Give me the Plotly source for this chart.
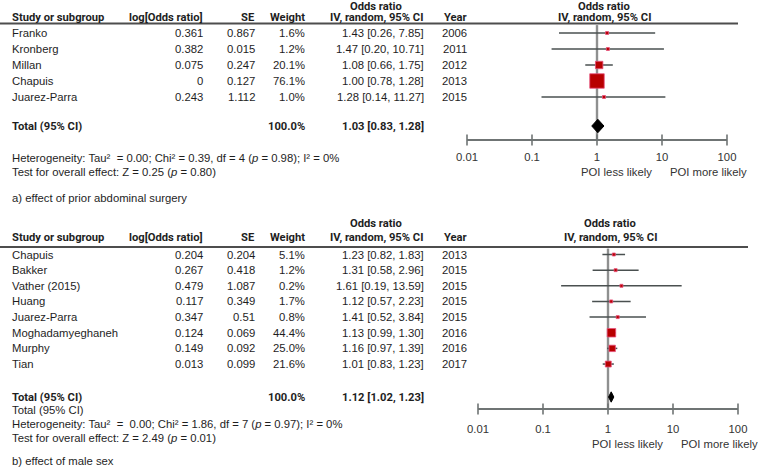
import plotly.graph_objects as go

# ---------------- data ----------------
a_study = ["Franko", "Kronberg", "Millan", "Chapuis", "Juarez-Parra"]
a_logor = [0.361, 0.382, 0.075, 0, 0.243]
a_se = [0.867, 0.015, 0.247, 0.127, 1.112]
a_weight = [1.6, 1.2, 20.1, 76.1, 1.0]
a_or = [1.43, 1.47, 1.08, 1.00, 1.28]
a_lo = [0.26, 0.20, 0.66, 0.78, 0.14]
a_hi = [7.85, 10.71, 1.75, 1.28, 11.27]
a_year = [2006, 2011, 2012, 2013, 2015]
a_total = [1.03, 0.83, 1.28]   # estimate, lower, upper
a_het = "Heterogeneity: Tau²  = 0.00; Chi² = 0.39, df = 4 (<i>p</i> = 0.98); I² = 0%"
a_test = "Test for overall effect: Z = 0.25 (<i>p</i> = 0.80)"
a_caption = "a) effect of prior abdominal surgery"

b_study = ["Chapuis", "Bakker", "Vather (2015)", "Huang", "Juarez-Parra",
           "Moghadamyeghaneh", "Murphy", "Tian"]
b_logor = [0.204, 0.267, 0.479, 0.117, 0.347, 0.124, 0.149, 0.013]
b_se = [0.204, 0.418, 1.087, 0.349, 0.51, 0.069, 0.092, 0.099]
b_weight = [5.1, 1.2, 0.2, 1.7, 0.8, 44.4, 25.0, 21.6]
b_or = [1.23, 1.31, 1.61, 1.12, 1.41, 1.13, 1.16, 1.01]
b_lo = [0.82, 0.58, 0.19, 0.57, 0.52, 0.99, 0.97, 0.83]
b_hi = [1.83, 2.96, 13.59, 2.23, 3.84, 1.30, 1.39, 1.23]
b_year = [2013, 2015, 2015, 2015, 2015, 2016, 2016, 2017]
b_total = [1.12, 1.02, 1.23]
b_het = "Heterogeneity: Tau²  =  0.00; Chi² = 1.86, df = 7 (<i>p</i> = 0.97); I² = 0%"
b_test = "Test for overall effect: Z = 2.49 (<i>p</i> = 0.01)"
b_caption = "b) effect of male sex"

tick_vals = [0.01, 0.1, 1, 10, 100]
tick_text = ["0.01", "0.1", "1", "10", "100"]
headers = ["Study or subgroup", "log[Odds ratio]", "SE", "Weight",
           "Odds ratio", "IV, random, 95% CI", "Year"]
left_label = "POI less likely"
right_label = "POI more likely"

# ---------------- styling ----------------
W, H = 758, 474
REG = "Liberation Sans, Arial, sans-serif"
BLD = "Roboto, Liberation Sans, Arial, sans-serif"
FS = 11.3
BS = 11.2
TXT = "#1e1e1e"

fig = go.Figure()
annotations = []
shapes = []

panels = [
    dict(study=a_study, logor=a_logor, se=a_se, w=a_weight, orr=a_or, lo=a_lo,
         hi=a_hi, year=a_year, total=a_total, het=a_het, test=a_test,
         cap=a_caption, extra_total=False,
         xa="x", ya="y", base=33.0, step=16.0, top=0, bot=212,
         one_px=597, hdr1=6.4, hdr2=17.6, line=23.5, tot=126, axis=140,
         tl=158, poi=172, hetp=158, testp=172, capp=198, linex=738,
         fhdr=604, k=1.66, dh=0.42),
    dict(study=b_study, logor=b_logor, se=b_se, w=b_weight, orr=b_or, lo=b_lo,
         hi=b_hi, year=b_year, total=b_total, het=b_het, test=b_test,
         cap=b_caption, extra_total=True,
         xa="x2", ya="y2", base=254.5, step=15.65, top=214, bot=474,
         one_px=608, hdr1=223.0, hdr2=237.4, line=247, tot=397, axis=409,
         tl=430, poi=444, totp=410, hetp=424, testp=438, capp=461, linex=748,
         fhdr=610, k=1.28, dh=0.33),
]

layout_axes = {}
for n, p in enumerate(panels):
    suffix = "" if n == 0 else "2"
    conv = (lambda pp: (lambda px: (px - pp["base"]) / pp["step"]))(p)
    yref = p["ya"]
    xref = p["xa"]
    # forest axis: 65 px per decade, ticks from 0.01 to 100
    x0px = p["one_px"] - 130
    x1px = p["one_px"] + 130
    layout_axes["xaxis" + suffix] = dict(
        type="log", range=[-2, 2], domain=[x0px / W, x1px / W], visible=False,
        anchor=yref, fixedrange=True)
    layout_axes["yaxis" + suffix] = dict(
        range=[conv(p["bot"]), conv(p["top"])], domain=[1 - p["bot"] / H, 1 - p["top"] / H],
        visible=False, anchor=xref, fixedrange=True)

    def ann(x, y, text, anchor="left", font=REG, size=FS, bold=False, color=TXT):
        annotations.append(dict(
            x=x / W, xref="paper", y=y, yref=yref, text=text, showarrow=False,
            xanchor=anchor, yanchor="middle", borderpad=0,
            font=dict(family=font, size=size, color=color, weight=700 if bold else 400)))

    # headers
    ann(11, conv(p["hdr2"]), headers[0], "left", BLD, BS, True)
    ann(204, conv(p["hdr2"]), headers[1], "right", BLD, BS, True)
    ann(256, conv(p["hdr2"]), headers[2], "right", BLD, BS, True)
    ann(306, conv(p["hdr2"]), headers[3], "right", BLD, BS, True)
    ann(376, conv(p["hdr1"]), headers[4], "center", BLD, BS, True)
    ann(376, conv(p["hdr2"]), headers[5], "center", BLD, BS, True)
    ann(468, conv(p["hdr2"]), headers[6], "right", BLD, BS, True)
    ann(p["fhdr"], conv(p["hdr1"]), headers[4], "center", BLD, BS, True)
    ann(p["fhdr"], conv(p["hdr2"]), headers[5], "center", BLD, BS, True)

    shapes.append(dict(type="line", xref="paper", yref=yref, x0=0, x1=p["linex"] / W,
                       y0=conv(p["line"]), y1=conv(p["line"]),
                       line=dict(color="#4d4d4d", width=1.8)))

    # rows
    for i, s in enumerate(p["study"]):
        ann(11, i, s)
        ann(204, i, f"{p['logor'][i]:g}", "right")
        ann(256, i, f"{p['se'][i]:g}", "right")
        ann(306, i, f"{p['w'][i]:.1f}%", "right")
        ann(425, i, f"{p['orr'][i]:.2f} [{p['lo'][i]:.2f}, {p['hi'][i]:.2f}]", "right")
        ann(468, i, str(p["year"][i]), "right")

    # total row
    ty = conv(p["tot"])
    ann(11, ty, "Total (95% CI)", "left", BLD, BS, True)
    ann(306, ty, f"{sum(p['w']):.1f}%", "right", BLD, BS, True)
    est, tlo, thi = p["total"]
    ann(425, ty, f"{est:.2f} [{tlo:.2f}, {thi:.2f}]", "right", BLD, BS, True)

    # footers
    if p["extra_total"]:
        ann(11, conv(p["totp"]), "Total (95% CI)")
    ann(11, conv(p["hetp"]), p["het"])
    ann(11, conv(p["testp"]), p["test"])
    ann(11, conv(p["capp"]), p["cap"])

    # forest plot: vertical line of no effect
    ay = conv(p["axis"])
    fig.add_trace(go.Scatter(x=[1, 1], y=[conv(p["line"]) + 0.1, ay], mode="lines",
                             line=dict(color="#8f9090", width=2.4), xaxis=xref, yaxis=yref,
                             hoverinfo="skip", showlegend=False))
    # CI lines
    cx, cy = [], []
    for i in range(len(p["study"])):
        cx += [p["lo"][i], p["hi"][i], None]
        cy += [i, i, None]
    fig.add_trace(go.Scatter(x=cx, y=cy, mode="lines", line=dict(color="#4a5050", width=1.5),
                             xaxis=xref, yaxis=yref, hoverinfo="skip", showlegend=False,
                             cliponaxis=False))
    # weighted squares
    sizes = [max(3.0, p["k"] * (w ** 0.5)) for w in p["w"]]
    fig.add_trace(go.Scatter(x=p["orr"], y=list(range(len(p["study"]))), mode="markers",
                             opacity=1,
                             marker=dict(symbol="square", size=sizes, color="#b80000",
                                         opacity=1,
                                         line=dict(color="#e8507c", width=0.8)),
                             xaxis=xref, yaxis=yref, hoverinfo="skip", showlegend=False,
                             cliponaxis=False))
    # diamond for pooled estimate
    dh = p["dh"]
    fig.add_trace(go.Scatter(x=[tlo, est, thi, est, tlo], y=[ty, ty - dh, ty, ty + dh, ty],
                             mode="lines", fill="toself", fillcolor="#000000",
                             line=dict(color="#000000", width=1), xaxis=xref, yaxis=yref,
                             hoverinfo="skip", showlegend=False, cliponaxis=False))
    # axis line + ticks
    fig.add_trace(go.Scatter(x=[tick_vals[0], tick_vals[-1]], y=[ay, ay], mode="lines",
                             line=dict(color="#6f7474", width=2), xaxis=xref, yaxis=yref,
                             hoverinfo="skip", showlegend=False, cliponaxis=False))
    fig.add_trace(go.Scatter(x=tick_vals, y=[ay] * len(tick_vals), mode="markers",
                             marker=dict(symbol="line-ns", size=8,
                                         line=dict(color="#6f7474", width=1.6)),
                             xaxis=xref, yaxis=yref, hoverinfo="skip", showlegend=False,
                             cliponaxis=False))
    fig.add_trace(go.Scatter(x=tick_vals, y=[conv(p["tl"])] * len(tick_vals), mode="text",
                             text=tick_text, textposition="middle center",
                             textfont=dict(family=REG, size=FS, color="#333333"),
                             xaxis=xref, yaxis=yref, hoverinfo="skip", showlegend=False,
                             cliponaxis=False))
    annotations.append(dict(x=1, xref=xref, y=conv(p["poi"]), yref=yref, text=left_label,
                            showarrow=False, xanchor="right", yanchor="middle", xshift=-8,
                            font=dict(family=REG, size=FS, color="#333333")))
    annotations.append(dict(x=1, xref=xref, y=conv(p["poi"]), yref=yref, text=right_label,
                            showarrow=False, xanchor="left", yanchor="middle", xshift=6,
                            font=dict(family=REG, size=FS, color="#333333")))

fig.update_layout(
    width=W, height=H, margin=dict(l=0, r=0, t=0, b=0),
    paper_bgcolor="white", plot_bgcolor="rgba(0,0,0,0)",
    annotations=annotations, shapes=shapes, showlegend=False,
    **layout_axes,
)
fig.write_html("out.html", config={"displayModeBar": False},
               post_script="document.body.style.margin='0px';document.body.style.overflow='hidden';")
